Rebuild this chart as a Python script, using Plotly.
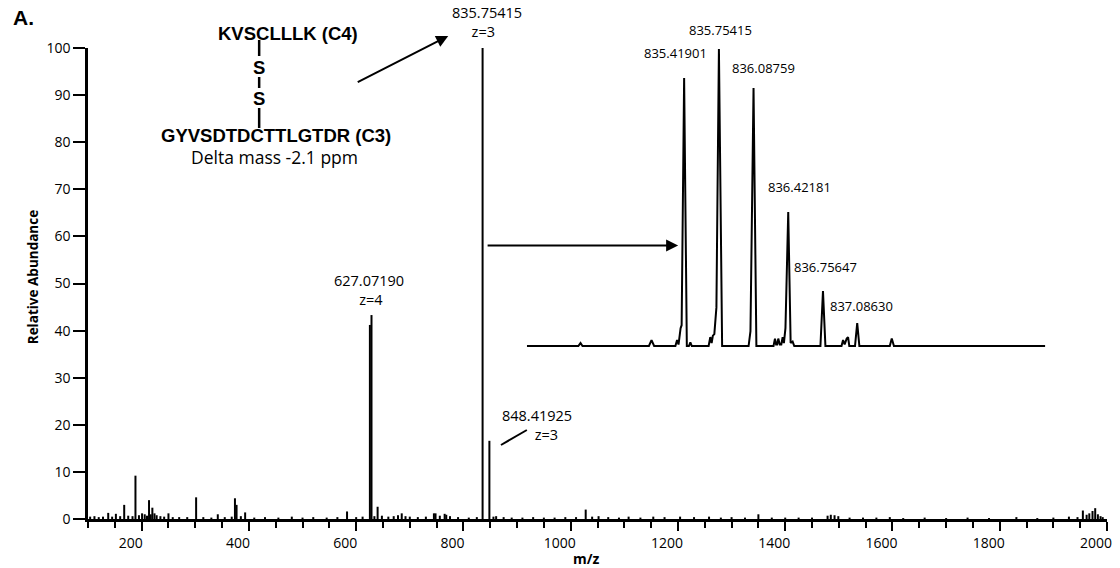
import plotly.graph_objects as go

# ---------------- data ----------------
# main (centroid) spectrum: m/z and relative abundance
main_mz = [104, 112, 120, 128, 137.7, 145, 152, 160, 167.5, 175, 183, 188.5, 195, 200.8, 205.8,
           210, 213.8, 217, 220, 224, 228, 235, 242, 250, 258, 270, 285, 301.6, 315, 330, 342,
           355, 368, 374, 377, 385, 393, 410, 430, 455, 480, 500, 520, 545, 565, 583, 600, 612,
           625.6, 628.6, 634, 640, 648, 660, 670, 678, 685, 692, 700, 715, 730, 745, 748, 756,
           765, 768, 775, 790, 810, 825, 835.75, 848.42, 856, 861, 875, 890, 910, 930, 950, 970,
           990, 1010, 1028, 1040, 1052, 1070, 1090, 1108, 1130, 1154, 1175, 1204, 1230, 1258,
           1280, 1300, 1325, 1350, 1375, 1400, 1425, 1450, 1479, 1485, 1492, 1499, 1520, 1545,
           1570, 1595, 1620, 1660, 1700, 1740, 1780, 1831, 1870, 1900, 1929, 1945, 1955, 1962,
           1967, 1973, 1978, 1983, 1988, 1992]
main_int = [0.5, 0.6, 0.4, 0.5, 1.3, 0.5, 1.1, 0.6, 3.0, 0.7, 0.6, 9.2, 0.8, 1.2, 1.0,
            0.7, 4.0, 1.0, 2.4, 1.2, 0.8, 0.6, 0.5, 1.2, 0.4, 0.4, 0.4, 4.6, 0.4, 0.3, 1.0,
            0.4, 0.5, 4.4, 3.0, 0.6, 1.4, 0.3, 0.4, 0.3, 0.5, 0.3, 0.4, 0.3, 0.4, 1.6, 0.4, 0.5,
            41.2, 43.3, 0.6, 2.6, 0.7, 0.5, 0.6, 0.8, 1.2, 0.6, 0.5, 0.4, 0.5, 1.2, 1.2, 0.7,
            1.1, 0.9, 0.6, 0.4, 0.3, 0.4, 100.0, 16.6, 0.5, 0.6, 0.4, 0.3, 0.3, 0.4, 0.3, 0.3,
            0.4, 0.4, 2.0, 0.5, 0.6, 0.4, 0.3, 0.5, 0.3, 0.5, 0.4, 0.5, 0.4, 0.5,
            0.3, 0.4, 0.3, 1.0, 0.3, 0.3, 0.3, 0.3, 0.7, 0.9, 0.8, 0.6, 0.3, 0.3,
            0.3, 0.4, 0.2, 0.3, 0.2, 0.3, 0.2, 0.4, 0.2, 0.3, 0.5, 0.4, 1.8, 0.9,
            1.2, 1.7, 2.3, 1.0, 0.6, 0.4]

# inset (profile) spectrum of the z=3 isotope cluster
inset_mz = [833.904, 834.40, 834.421, 834.44, 835.08, 835.105, 835.13, 835.335, 835.351, 835.365,
            835.385, 835.395, 835.41901, 835.445, 835.465, 835.479, 835.493, 835.655, 835.671,
            835.684, 835.696, 835.71, 835.730, 835.75415, 835.785, 836.04, 836.058, 836.08759,
            836.115, 836.28, 836.294, 836.305, 836.315, 836.326, 836.34, 836.355, 836.368,
            836.38, 836.395, 836.42181, 836.445, 836.464, 836.48, 836.732, 836.75647, 836.78,
            836.935, 836.950, 836.965, 836.985, 836.998, 837.01, 837.065, 837.08630, 837.107,
            837.40, 837.419, 837.44, 838.898]
inset_rel = [0, 0, 1.0, 0, 0, 2.0, 0, 0, 2.0, 0.5,
             6, 7, 90.2, 0, 0, 1.2, 0, 0, 3,
             1, 3.5, 4, 13, 100, 0, 0, 5, 86.9,
             0, 0, 2.5, 0.5, 0.5, 2.5, 0.5, 0.5, 3,
             1, 6, 45.1, 1, 1.5, 0, 0, 18.5, 0,
             0, 2.0, 0.5, 2.5, 3.0, 0, 0, 7.7, 0,
             0, 2.5, 0, 0]

x_ticks = [200, 400, 600, 800, 1000, 1200, 1400, 1600, 1800, 2000]
y_ticks = [0, 10, 20, 30, 40, 50, 60, 70, 80, 90, 100]

# ---------------- figure ----------------
W, H = 1120, 568
L, R, T, B = 88, 1112, 48, 519
NB = "\u00a0"


def px(xp):
    return (xp - L) / (R - L)


def py(yp):
    return (B - yp) / (B - T)


xs, ys = [], []
for m, h in zip(main_mz, main_int):
    xs += [m, m, None]
    ys += [0, h, None]

fig = go.Figure()
fig.add_trace(go.Scatter(x=xs, y=ys, mode="lines", line=dict(color="black", width=2),
                         hoverinfo="skip", showlegend=False, xaxis="x", yaxis="y"))
fig.add_trace(go.Scatter(x=inset_mz, y=inset_rel, mode="lines",
                         line=dict(color="black", width=2),
                         hoverinfo="skip", showlegend=False, xaxis="x2", yaxis="y2"))

tickfont = dict(family="Open Sans", size=14, color="black")

fig.update_layout(
    width=W, height=H,
    margin=dict(l=L, r=W - R, t=T, b=H - B),
    paper_bgcolor="white", plot_bgcolor="white",
    showlegend=False,
    xaxis=dict(range=[100, 2000], showgrid=False, zeroline=False,
               showline=True, linecolor="black", linewidth=2.5,
               tickmode="array", tickvals=x_ticks, ticktext=[str(v) for v in x_ticks],
               ticks="outside", ticklen=9, tickwidth=2, tickcolor="black",
               tickfont=tickfont, ticklabelshift=-11,
               minor=dict(tick0=0, dtick=50, ticks="outside", ticklen=6, tickwidth=2,
                          tickcolor="black", showgrid=False)),
    yaxis=dict(range=[0, 100], showgrid=False, zeroline=False,
               showline=True, linecolor="black", linewidth=2.5,
               tickmode="array", tickvals=y_ticks, ticktext=[str(v) for v in y_ticks],
               ticks="outside", ticklen=12, tickwidth=2, tickcolor="black",
               tickfont=tickfont),
    xaxis2=dict(domain=[px(529), px(1050)], range=[833.904, 838.898], anchor="y2",
                visible=False, showgrid=False, zeroline=False),
    yaxis2=dict(domain=[(B - 351.94) / (B - T), 0.9998], range=[-2, 100.3], anchor="x2",
                visible=False, showgrid=False, zeroline=False),
)

ann = []


def text(t, x, y, size, family="Open Sans", bold=False, angle=0):
    ann.append(dict(text=("<b>%s</b>" % t) if bold else t, x=px(x), y=py(y),
                    xref="paper", yref="paper", xanchor="center", yanchor="middle",
                    showarrow=False, textangle=angle,
                    font=dict(family=family, size=size, color="black")))


# panel letter and axis titles
text("A.", 23, 17.5, 21, family="Liberation Sans", bold=True)
text("Relative Abundance", 33, 277, 13.5, bold=True, angle=-90)
text("m/z", 589, 558, 14, bold=True)

# main peak labels (two-line)
text("835.75415<br>z=3" + NB * 2, 488.5, 22.5, 14.5)
text("627.07190<br>" + NB + "z=4", 370.5, 290, 14.5)
text("848.41925<br>" + NB * 5 + "z=3", 539, 425, 14.5)

# inset peak labels
text("835.41901", 678, 53, 13)
text("835.75415", 724, 30.5, 13)
text("836.08759", 767, 68, 13)
text("836.42181", 802.5, 187, 13)
text("836.75647", 829, 266.5, 13)
text("837.08630", 865, 306, 13)

# crosslinked peptide structure
text("KVSCLLLK (C4)", 288.7, 33.5, 18.5, family="Liberation Sans", bold=True)
text("S", 260, 67, 18.5, family="Liberation Sans", bold=True)
text("S", 260, 98.5, 18.5, family="Liberation Sans", bold=True)
text("GYVSDTDCTTLGTDR (C3)", 276.7, 135, 18.5, family="Liberation Sans", bold=True)
text("Delta mass -2.1 ppm", 275, 157, 17.5)

# arrows
ann.append(dict(text="", x=px(450), y=py(36), xref="paper", yref="paper",
                showarrow=True, ax=358 - 450, ay=83 - 36, axref="pixel", ayref="pixel",
                arrowhead=2, arrowsize=1.2, arrowwidth=2, arrowcolor="black"))
ann.append(dict(text="", x=px(681), y=py(245.5), xref="paper", yref="paper",
                showarrow=True, ax=489 - 681, ay=0, axref="pixel", ayref="pixel",
                arrowhead=2, arrowsize=1.2, arrowwidth=2, arrowcolor="black"))
fig.update_layout(annotations=ann)

# disulfide bonds and leader line
shapes = []
for y0, y1 in [(40, 56), (77, 88), (108, 128)]:
    shapes.append(dict(type="line", xref="paper", yref="paper",
                       x0=px(260), x1=px(260), y0=py(y0), y1=py(y1),
                       line=dict(color="black", width=2.5)))
shapes.append(dict(type="line", xref="paper", yref="paper",
                   x0=px(503), y0=py(445), x1=px(529), y1=py(430),
                   line=dict(color="black", width=2)))
fig.update_layout(shapes=shapes)

fig.write_html("out.html")
